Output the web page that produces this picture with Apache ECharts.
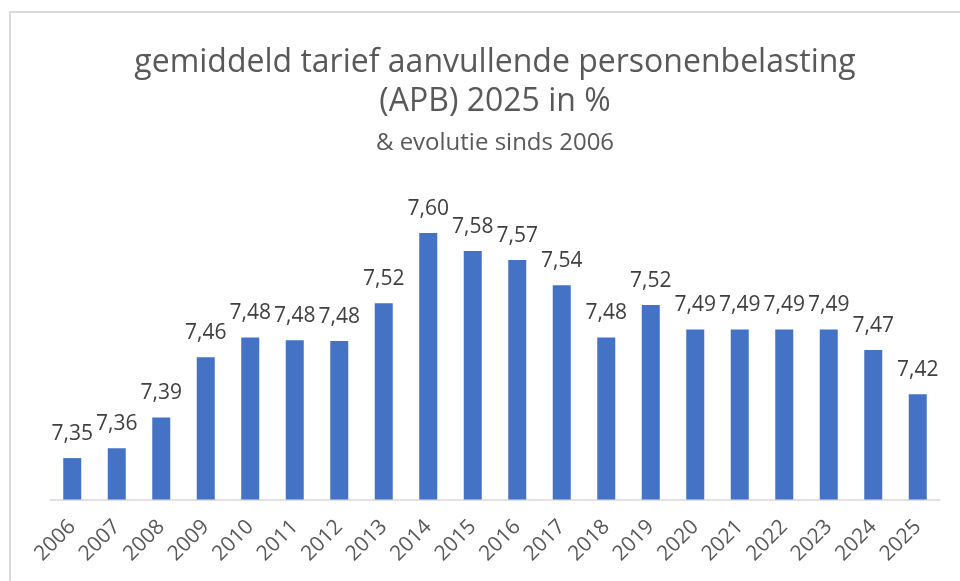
<!DOCTYPE html>
<html>
<head>
<meta charset="utf-8">
<script src="https://cdn.jsdelivr.net/npm/echarts@6/dist/echarts.min.js"></script>
<style>
  html, body { margin: 0; padding: 0; background: #fff; }
  #chart { width: 960px; height: 581px; }
</style>
</head>
<body>
<div id="chart"></div>
<script>
// jaren en gemiddeld tarief APB (%)
const years = ['2006', '2007', '2008', '2009', '2010', '2011', '2012', '2013', '2014', '2015',
               '2016', '2017', '2018', '2019', '2020', '2021', '2022', '2023', '2024', '2025'];
const rates = [7.346, 7.357, 7.391, 7.458, 7.480, 7.477, 7.476, 7.518, 7.596, 7.576,
               7.566, 7.538, 7.480, 7.516, 7.489, 7.489, 7.489, 7.489, 7.466, 7.417];

const titleText = 'gemiddeld tarief aanvullende personenbelasting\n(APB) 2025 in %';
const subText = '& evolutie sinds 2006';

const FONT = '"Open Sans", "Noto Sans", sans-serif';

const chart = echarts.init(document.getElementById('chart'));

chart.setOption({
    backgroundColor: '#fff',
    animation: false,
    title: {
        text: titleText,
        subtext: subText,
        left: 490,
        top: 38,
        textAlign: 'center',
        itemGap: 8,
        textStyle: {
            fontFamily: FONT,
            fontSize: 32,
            fontWeight: 'normal',
            lineHeight: 39,
            color: '#595959'
        },
        subtextStyle: {
            fontFamily: FONT,
            fontSize: 24,
            lineHeight: 28,
            color: '#595959'
        }
    },
    graphic: [{
        type: 'rect',
        shape: { x: 10, y: 12, width: 1000, height: 600 },
        style: { fill: null, stroke: '#d9d9d9', lineWidth: 2 },
        silent: true
    }],
    grid: {
        left: 50,
        right: 20,
        top: 184.5,
        bottom: 81.5
    },
    xAxis: {
        type: 'category',
        data: years,
        axisLine: { lineStyle: { color: '#d9d9d9', width: 1.5 } },
        axisTick: { show: false },
        axisLabel: {
            rotate: 45,
            margin: 24,
            interval: 0,
            fontFamily: FONT,
            fontSize: 21,
            color: '#595959'
        }
    },
    yAxis: {
        type: 'value',
        min: 7.30,
        max: 7.65,
        show: false,
        splitLine: { show: false }
    },
    series: [{
        type: 'bar',
        data: rates,
        barWidth: 18,
        itemStyle: { color: '#4472C4' },
        label: {
            show: true,
            position: 'top',
            distance: 14,
            fontFamily: FONT,
            fontSize: 21,
            color: '#404040',
            formatter: p => p.value.toFixed(2).replace('.', ',')
        }
    }]
});
</script>
</body>
</html>
